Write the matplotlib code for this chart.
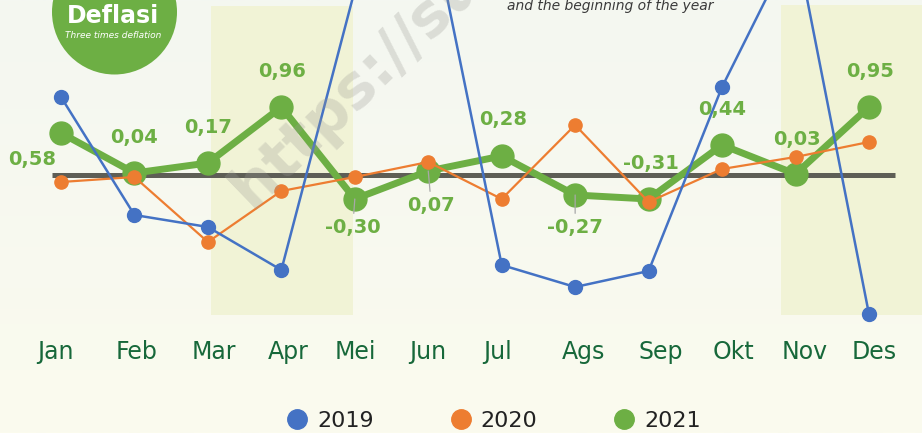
import matplotlib
matplotlib.use('Agg')
import matplotlib.pyplot as plt
import numpy as np
from matplotlib.lines import Line2D
from matplotlib.patches import Circle, Rectangle

# ---------------- data ----------------
months = ['Jan', 'Feb', 'Mar', 'Apr', 'Mei', 'Jun', 'Jul', 'Ags', 'Sep', 'Okt', 'Nov', 'Des']
series_names = ['2019', '2020', '2021']
# plotted levels (chart units)
s2019 = [0.78, -0.40, -0.52, -0.95, 1.85, 2.70, -0.90, -1.12, -0.96, 0.88, 2.35, -1.39]
s2020 = [-0.07, -0.02, -0.67, -0.16, -0.02, 0.13, -0.24, 0.50, -0.27, 0.06, 0.18, 0.33]
s2021 = [0.42, 0.02, 0.12, 0.68, -0.24, 0.04, 0.19, -0.20, -0.24, 0.30, 0.01, 0.68]
labels2021 = ['0,58', '0,04', '0,17', '0,96', '-0,30', '0,07', '0,28', '-0,27', '-0,31', '0,44', '0,03', '0,95']

# ---------------- style ----------------
C19, C20, C21 = '#4472c4', '#ed7d31', '#6daf44'
TICK_C = '#17683a'
# label offsets in pixels (dx right, dy down)
lab_off = [(-29, 26), (0, -35), (0, -35), (1, -35), (-2, 28), (3, 34),
           (1, -36), (0, 32), (2, -35), (0, -35), (1, -34), (1, -36)]
leader = [False, False, False, False, True, True, False, True, False, False, False, False]
tick_dx = [-6, 2, 6, 7, 1, -1, -4, 8, 12, 11, 9, 5]

W, H = 922, 433
fig = plt.figure(figsize=(W / 100, H / 100), dpi=100)

# background / decoration axes in pixel coordinates
bg = fig.add_axes([0, 0, 1, 1], zorder=0)
bg.set_xlim(0, W)
bg.set_ylim(H, 0)
bg.axis('off')
grad = np.linspace(0, 1, 256).reshape(-1, 1)
top = np.array(matplotlib.colors.to_rgb('#f4f7f1'))
bot = np.array(matplotlib.colors.to_rgb('#fbfbee'))
img = top[None, None, :] * (1 - grad[:, :, None]) + bot[None, None, :] * grad[:, :, None]
bg.imshow(img, extent=[0, W, H, 0], aspect='auto', zorder=0)
bg.add_patch(Rectangle((211, 6), 142, 309, color='#f1f3d6', lw=0, zorder=1))
bg.add_patch(Rectangle((781, 5), 145, 310, color='#f1f3d6', lw=0, zorder=1))
bg.add_patch(Circle((114.5, 12), 62.5, color=C21, lw=0, zorder=2))
bg.text(113, 16, 'Deflasi', color='white', fontsize=17, fontweight='bold',
        ha='center', va='center', zorder=3)
bg.text(113, 36, 'Three times deflation', color='white', fontsize=6.5, style='italic',
        ha='center', va='center', zorder=3)
bg.text(610, 6, 'and the beginning of the year', color='#3a3a3a', fontsize=10,
        style='italic', ha='center', va='center', zorder=3)

# main data axes
ax = fig.add_axes([0, 0, 1, 1], zorder=1)
ax.patch.set_alpha(0)
ax.axis('off')
px0, pstep = 61, 73.45
ax.set_xlim(-px0 / pstep, (W - px0) / pstep)
ax.set_ylim((175 - H) / 100, 175 / 100)
x = np.arange(len(months))

ax.hlines(0, (52 - px0) / pstep, (895 - px0) / pstep, color='#5e5e56', lw=3.6, zorder=2)
ax.plot(x, s2021, color=C21, lw=5, marker='o', ms=16.5, zorder=3, solid_joinstyle='round')
ax.plot(x, s2020, color=C20, lw=1.6, marker='o', ms=9.5, zorder=4)
ax.plot(x, s2019, color=C19, lw=1.8, marker='o', ms=10, zorder=5)

for i, (lab, (dx, dy)) in enumerate(zip(labels2021, lab_off)):
    kw = {}
    if leader[i]:
        kw['arrowprops'] = dict(arrowstyle='-', color='#a8a8a8', lw=0.9, shrinkA=1, shrinkB=0)
    ax.annotate(lab, (x[i], s2021[i]), xytext=(dx * 0.72, -dy * 0.72),
                textcoords='offset points', ha='center', va='center',
                color=C21, fontsize=14, fontweight='bold', zorder=8, **kw)

for i, m in enumerate(months):
    ax.text(x[i] + tick_dx[i] / pstep, (175 - 352) / 100, m, color=TICK_C,
            fontsize=17, ha='center', va='center')

# watermark
ax.text(252, 210, 'https://su', transform=bg.transData, fontsize=43, fontweight='bold',
        color='#9a9a94', alpha=0.28, rotation=44, rotation_mode='anchor',
        ha='left', va='baseline', zorder=10)

handles = [Line2D([], [], ls='', marker='o', color=c, ms=14) for c in (C19, C20, C21)]
fig.legend(handles, series_names, loc='center', bbox_to_anchor=(493.5 / W, 1 - 421 / H),
           frameon=False, ncol=3, fontsize=16, handlelength=1, handletextpad=0.4,
           columnspacing=3.4, borderpad=0, labelcolor='#222222')

fig.savefig('out.png', dpi=100)
